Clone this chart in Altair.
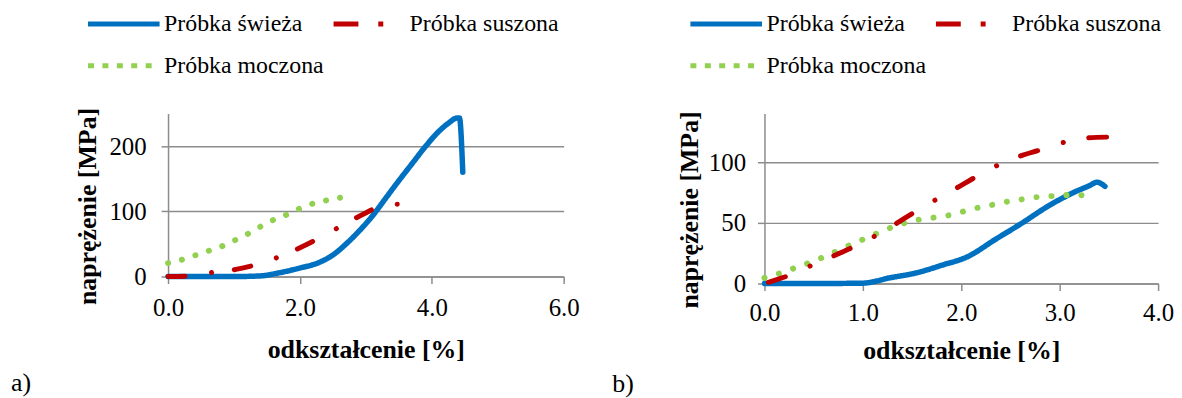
import altair as alt
import pandas as pd

FONT = "Liberation Serif"
GRAY = "#8c8c8c"
# legend fills column by column: column 1 = świeża, moczona; column 2 = suszona
NAMES = ["Próbka świeża", "Próbka moczona", "Próbka suszona"]
COLORS = ["#0070C0", "#92D050", "#C00000"]
LEGEND_DASH = [[1, 0], [6, 8.5], [25, 20, 5, 30]]

# ---- panel a) ----
a_fresh_x = [0.0, 0.5, 1.0, 1.4, 1.7, 2.0, 2.3, 2.5, 2.7, 2.9, 3.1, 3.3, 3.5, 3.7, 3.9, 4.1, 4.25, 4.38, 4.42, 4.47]
a_fresh_y = [0, 0, 0, 1, 6, 13, 22, 33, 50, 70, 93, 120, 147, 173, 199, 222, 235, 243, 243, 160]
a_dried_x = [0.0, 0.3, 0.68, 1.03, 1.36, 1.70, 2.04, 2.35, 2.67, 2.99, 3.28, 3.54]
a_dried_y = [0, 0.5, 6.5, 11, 19, 31, 46, 62, 80, 97, 110, 111]
a_soaked_x = [0.0, 0.21, 0.42, 0.63, 0.83, 1.02, 1.22, 1.41, 1.60, 1.80, 1.99, 2.20, 2.41, 2.62]
a_soaked_y = [20.7, 25.8, 32.8, 40, 47, 56, 66, 77, 87, 95, 104, 112, 117, 121]

# ---- panel b) ----
b_fresh_x = [0.0, 0.5, 1.0, 1.27, 1.54, 1.80, 2.07, 2.34, 2.61, 2.88, 3.15, 3.30, 3.38, 3.46]
b_fresh_y = [0, 0, 0.3, 4.6, 8.7, 15, 22.3, 36, 49.4, 63.6, 75.3, 80.5, 83.4, 80]
b_dried_x = [0.04, 0.26, 0.48, 0.71, 0.90, 1.12, 1.33, 1.51, 1.74, 1.96, 2.14, 2.36, 2.60, 2.80, 3.03, 3.29, 3.49]
b_dried_y = [1, 7, 15, 23, 30, 39, 49, 58, 69, 79, 87.5, 97, 105, 110, 116, 120, 120.6]
b_soaked_x = [0.0, 0.15, 0.28, 0.43, 0.56, 0.69, 0.82, 0.95, 1.09, 1.22, 1.35, 1.49, 1.64, 1.78, 1.92,
              2.06, 2.20, 2.34, 2.48, 2.63, 2.77, 2.92, 3.06, 3.20, 3.32]
b_soaked_y = [4.6, 8.2, 12, 16.3, 20.4, 25, 29.9, 34.5, 39.4, 44, 47.8, 51.3, 53.5, 54.9, 57,
              60.3, 63, 65.2, 67.6, 69.5, 71.2, 72, 72.8, 73, 67]


def frame(series):
    rows = []
    for name, xs, ys in series:
        for i, (x, y) in enumerate(zip(xs, ys)):
            rows.append({"series": name, "x": x, "y": y, "idx": i})
    return pd.DataFrame(rows)


def panel(df, xdom, xvals, ydom, yvals, w, h, dashes, tag, tag_dx, xlp, xtp, ylp, ytp, lx):
    x = alt.X("x:Q", scale=alt.Scale(domain=xdom, nice=False, zero=False),
              axis=alt.Axis(values=xvals, format=".1f", grid=False, tickSize=7,
                            labelPadding=xlp, titlePadding=xtp, title="odkształcenie [%]"))
    y = alt.Y("y:Q", scale=alt.Scale(domain=ydom, nice=False),
              axis=alt.Axis(values=yvals, grid=True, tickSize=7, labelPadding=ylp,
                            titlePadding=ytp, titleY=h / 2 + 11, title="naprężenie [MPa]"))
    legend = alt.Legend(title=None, orient="none", legendX=lx, legendY=-102, columns=2,
                        symbolType="stroke", symbolSize=72 * 72, symbolStrokeWidth=5,
                        clipHeight=24,
                        labelFont=FONT, labelFontSize=24, labelColor="black", labelOffset=2,
                        rowPadding=18, columnPadding=7, labelLimit=0, padding=0,
                        symbolOpacity=1)
    leg = alt.Chart(df).transform_filter("false").mark_line(strokeWidth=5).encode(
        x=x, y=y,
        color=alt.Color("series:N", scale=alt.Scale(domain=NAMES, range=COLORS), legend=legend),
        strokeDash=alt.StrokeDash("series:N", scale=alt.Scale(domain=NAMES, range=LEGEND_DASH), legend=legend),
    )
    layers = [leg]
    for name, col, dash, sw in zip(NAMES, COLORS, dashes, [5.5, 6, 5]):
        layers.append(
            alt.Chart(df).transform_filter(alt.datum.series == name)
            .mark_line(color=col, strokeWidth=sw, strokeCap="round", strokeJoin="round",
                       strokeDash=dash, interpolate="monotone")
            .encode(x=x, y=y, order="idx:Q")
        )
    return alt.layer(*layers).properties(
        width=w, height=h,
        title=alt.TitleParams(tag, orient="bottom", anchor="start", frame="group", dx=tag_dx, offset=8,
                              font=FONT, fontSize=26, fontWeight="normal", color="black"),
    )


df_a = frame([(NAMES[0], a_fresh_x, a_fresh_y), (NAMES[2], a_dried_x, a_dried_y), (NAMES[1], a_soaked_x, a_soaked_y)])
df_b = frame([(NAMES[0], b_fresh_x, b_fresh_y), (NAMES[2], b_dried_x, b_dried_y), (NAMES[1], b_soaked_x, b_soaked_y)])

pa = panel(df_a, [0, 6], [0, 2, 4, 6], [0, 250], [0, 100, 200], 398, 164,
           [[1, 0], [0.1, 14.2], [17, 27, 0.1, 23]], "a)", -158, 12, 16, 15, 8, -83)
pb = panel(df_b, [0, 4], [0, 1, 2, 3, 4], [0, 140], [0, 50, 100], 396, 171,
           [[1, 0], [0.1, 15], [18, 27, 0.1, 26]], "b)", -153, 10, 12, 12, 6, -77)

chart = alt.hconcat(pa, pb, spacing=33).resolve_scale(
    x="independent", y="independent", color="independent", strokeDash="independent"
).resolve_legend(color="independent", strokeDash="independent").properties(
    padding={"left": 3, "top": 3, "right": 0, "bottom": 0}, background="white"
).configure(font=FONT).configure_view(stroke=None).configure_axis(
    labelFont=FONT, labelFontSize=25, labelColor="black",
    titleFont=FONT, titleFontSize=26, titleFontWeight="bold", titleColor="black",
    domainColor=GRAY, domainWidth=1.5, tickColor=GRAY, tickWidth=1.5,
    gridColor=GRAY, gridWidth=1.5, labelFlush=False,
)

chart.save("out.html", embed_options={"renderer": "svg", "actions": False})
